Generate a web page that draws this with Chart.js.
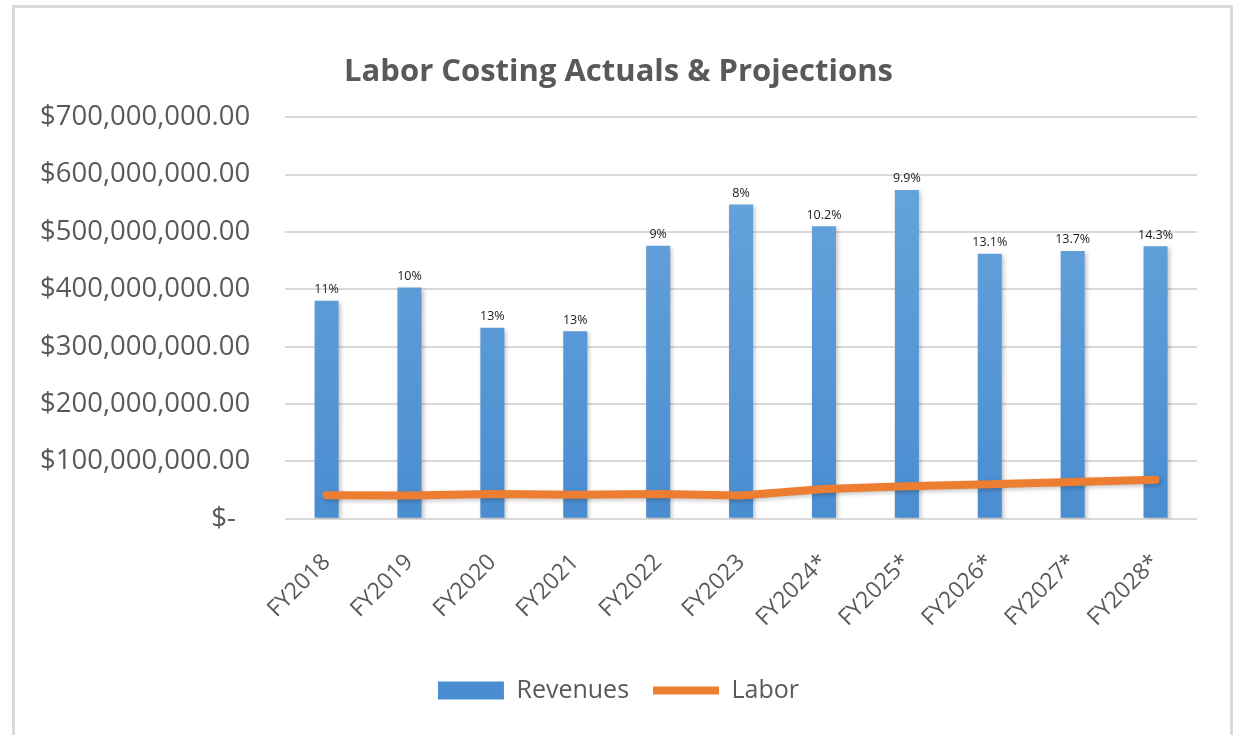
<!DOCTYPE html>
<html>
<head>
<meta charset="utf-8">
<script src="https://cdn.jsdelivr.net/npm/chart.js@4.4.1/dist/chart.umd.min.js"></script>
<style>
  html, body { margin: 0; padding: 0; background: #fff; }
  #wrap { position: relative; width: 1235px; height: 735px; overflow: hidden; }
  #frame {
    position: absolute; left: 12px; top: 5px; width: 1221px; height: 740px;
    border: 3px solid #d9d9d9; border-bottom: none; box-sizing: border-box;
  }
  #laborChart { position: absolute; left: 0; top: 0; }
</style>
</head>
<body>
<div id="wrap">
  <div id="frame"></div>
  <canvas id="laborChart" width="1235" height="735"></canvas>
</div>
<script>
const anos = ["FY2018", "FY2019", "FY2020", "FY2021", "FY2022", "FY2023",
  "FY2024*", "FY2025*", "FY2026*", "FY2027*", "FY2028*"];
const receitas = [380000000, 403000000, 333000000, 327000000, 476000000, 548000000,
  510000000, 573000000, 462000000, 467000000, 475000000];
const custoLabor = [41000000, 40500000, 43500000, 42000000, 43500000, 40500000,
  52000000, 57000000, 60500000, 64000000, 68000000];
const percentuais = ["11%", "10%", "13%", "13%", "9%", "8%",
  "10.2%", "9.9%", "13.1%", "13.7%", "14.3%"];
const yTicks = [0, 100000000, 200000000, 300000000, 400000000, 500000000, 600000000, 700000000];

const fonte = "'Open Sans', 'Noto Sans', sans-serif";
const cinza = "#595959";

function formatMoeda(v) {
  if (v === 0) return "$-  ";
  return "$" + v.toLocaleString("en-US", { minimumFractionDigits: 2, maximumFractionDigits: 2 });
}

const sombraPlugin = {
  id: "sombra",
  beforeDatasetsDraw(chart) {
    const ctx = chart.ctx;
    ctx.save();
    ctx.shadowColor = "rgba(0,0,0,0.22)";
    ctx.shadowBlur = 4;
    ctx.shadowOffsetX = 2;
    ctx.shadowOffsetY = 2;
  },
  afterDatasetsDraw(chart) {
    const ctx = chart.ctx;
    ctx.restore();
    // rotulos de percentual acima das barras
    const meta = chart.getDatasetMeta(0);
    ctx.save();
    ctx.font = "12.5px " + fonte;
    ctx.fillStyle = "#1a1a1a";
    ctx.textAlign = "center";
    ctx.textBaseline = "bottom";
    meta.data.forEach((bar, i) => {
      ctx.fillText(percentuais[i], bar.x, bar.y - 5);
    });
    ctx.restore();
  },
};

const ctx = document.getElementById("laborChart");

new Chart(ctx.getContext("2d"), {
  type: "bar",
  data: {
    labels: anos,
    datasets: [
      {
        label: "Revenues",
        data: receitas,
        order: 2,
        backgroundColor: function (context) {
          const area = context.chart.chartArea;
          if (!area) return "#5b9bd5";
          const g = context.chart.ctx.createLinearGradient(0, area.top, 0, area.bottom);
          g.addColorStop(0, "#6aa7dd");
          g.addColorStop(1, "#4a8dd0");
          return g;
        },
        borderWidth: 0,
        barPercentage: 0.29,
        categoryPercentage: 1,
        pointStyle: "rect",
      },
      {
        label: "Labor",
        type: "line",
        data: custoLabor,
        order: 1,
        borderColor: "#ed7d31",
        backgroundColor: "#ed7d31",
        borderWidth: 8,
        borderCapStyle: "round",
        borderJoinStyle: "round",
        pointRadius: 0,
        pointHoverRadius: 0,
        pointStyle: "line",
        tension: 0,
        fill: false,
      },
    ],
  },
  options: {
    responsive: false,
    animation: false,
    layout: {
      padding: { left: 40, right: 38, top: 54, bottom: 22 },
    },
    plugins: {
      title: {
        display: true,
        text: "Labor Costing Actuals & Projections",
        color: cinza,
        font: { family: fonte, size: 31, weight: "bold" },
        padding: { top: 0, bottom: 26 },
      },
      legend: {
        position: "bottom",
        labels: {
          usePointStyle: true,
          pointStyleWidth: 66,
          boxHeight: 18,
          color: cinza,
          font: { family: fonte, size: 25 },
          padding: 24,
          sort: (a, b) => a.datasetIndex - b.datasetIndex,
        },
      },
      tooltip: { enabled: false },
    },
    scales: {
      x: {
        grid: { display: false },
        border: { display: false },
        afterFit: function (axis) {
          // rotulos inclinados nao empurram a area do grafico
          axis.paddingLeft = 0;
          axis.paddingRight = 0;
        },
        ticks: {
          color: cinza,
          font: { family: fonte, size: 23 },
          minRotation: 45,
          maxRotation: 45,
          padding: 22,
        },
      },
      y: {
        min: 0,
        max: 700000000,
        afterBuildTicks: function (axis) {
          axis.ticks = yTicks.map((v) => ({ value: v }));
        },
        afterFit: function (axis) {
          // o Chart.js conta o padding duas vezes na largura
          axis.width -= axis.options.ticks.padding;
        },
        grid: {
          color: "#d9d9d9",
          lineWidth: 2,
          drawTicks: false,
        },
        border: { display: false },
        ticks: {
          color: cinza,
          font: { family: fonte, size: 27.5 },
          padding: 35,
          callback: function (value) {
            return formatMoeda(value);
          },
        },
      },
    },
  },
  plugins: [sombraPlugin],
});
</script>
</body>
</html>
